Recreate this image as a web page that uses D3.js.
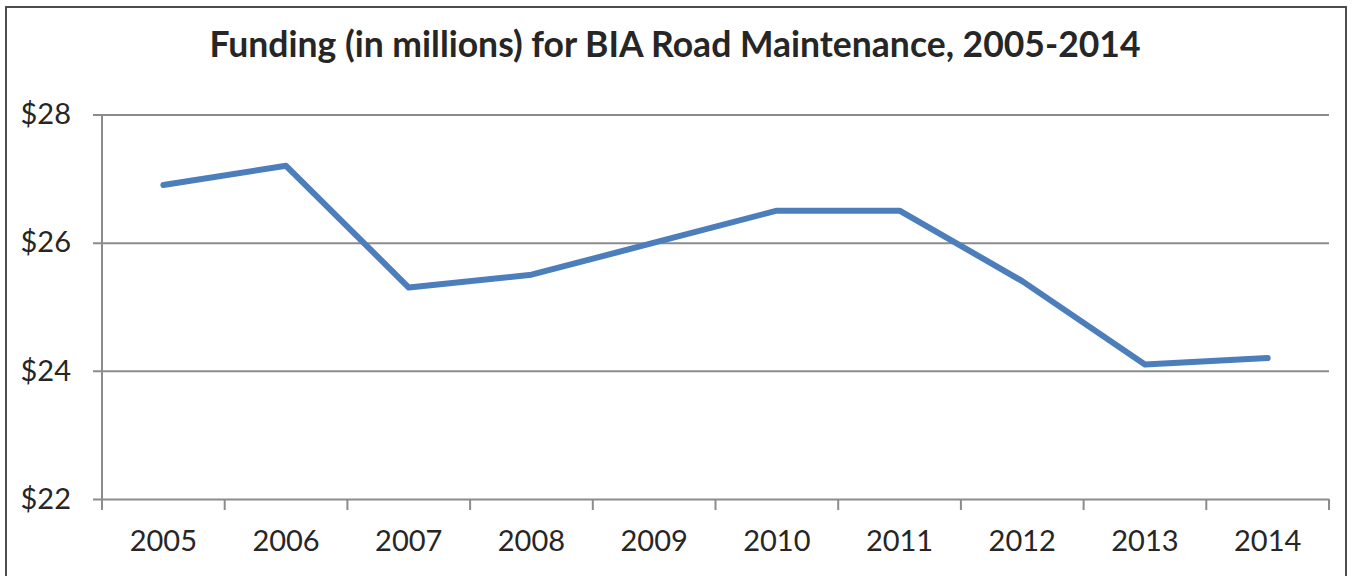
<!DOCTYPE html>
<html lang="en">
<head>
<meta charset="UTF-8">
<title>BIA Road Maintenance Funding</title>
<script src="https://d3js.org/d3.v7.min.js"></script>
<style>
  html, body { margin: 0; padding: 0; background: #fff; }
  svg { display: block; }
  text { font-family: Lato, "Open Sans", sans-serif; fill: #262626; }
</style>
</head>
<body>
<svg id="chart" width="1352" height="576"></svg>
<script>
    // data
    const years = ["2005", "2006", "2007", "2008", "2009", "2010", "2011", "2012", "2013", "2014"];
    const funding = [26.9, 27.2, 25.3, 25.5, 26.0, 26.5, 26.5, 25.4, 24.1, 24.2];
    const yTicks = [22, 24, 26, 28];
    const titleText = "Funding (in millions) for BIA Road Maintenance, 2005-2014";

    const svg = d3.select("#chart");
    const width = 1352, height = 576;
    const margin = {top: 114.5, right: 23, bottom: 77, left: 102};

    // outer frame
    svg.append("rect")
        .attr("x", 6).attr("y", 7)
        .attr("width", 1340).attr("height", 600)
        .attr("fill", "none")
        .attr("stroke", "#4d4d4d")
        .attr("stroke-width", 2);

    const x = d3.scaleBand()
        .domain(years)
        .range([margin.left, width - margin.right]);

    const y = d3.scaleLinear()
        .domain([22, 28])
        .range([height - margin.bottom, margin.top]);

    // gridlines + y labels
    const yAxis = d3.axisLeft(y)
        .tickValues(yTicks)
        .tickSize(-(width - margin.right - margin.left) - 9)
        .tickPadding(22)
        .tickFormat(d => "$" + d);

    const gy = svg.append("g")
        .attr("transform", `translate(${margin.left - 9},0)`)
        .call(yAxis);
    gy.select(".domain").remove();
    gy.selectAll(".tick line").attr("stroke", "#8c8c8c").attr("stroke-width", 2);
    gy.selectAll(".tick text")
        .attr("font-size", 29)
        .attr("fill", "#262626")
        .style("font-family", "Lato, 'Open Sans', sans-serif");

    // vertical axis line
    svg.append("line")
        .attr("x1", margin.left).attr("x2", margin.left)
        .attr("y1", margin.top).attr("y2", y(22) + 11)
        .attr("stroke", "#8c8c8c").attr("stroke-width", 2);

    // x axis with ticks between categories
    const xAxisG = svg.append("g");
    const bounds = years.map(d => x(d)).concat([x(years[years.length - 1]) + x.bandwidth()]);
    xAxisG.selectAll("line.xt")
        .data(bounds.slice(1))
        .join("line")
        .attr("class", "xt")
        .attr("x1", d => d).attr("x2", d => d)
        .attr("y1", y(22)).attr("y2", y(22) + 11)
        .attr("stroke", "#8c8c8c").attr("stroke-width", 2);

    xAxisG.selectAll("text")
        .data(years)
        .join("text")
        .attr("x", d => x(d) + x.bandwidth() / 2)
        .attr("y", y(22) + 52)
        .attr("text-anchor", "middle")
        .attr("font-size", 29)
        .text(d => d);

    // the line
    const line = d3.line()
        .x((d, i) => x(years[i]) + x.bandwidth() / 2)
        .y(d => y(d));

    svg.append("path")
        .datum(funding)
        .attr("fill", "none")
        .attr("stroke", "#4b7ebb")
        .attr("stroke-width", 6)
        .attr("stroke-linejoin", "round")
        .attr("stroke-linecap", "round")
        .attr("d", line);

    // title
    svg.append("text")
        .attr("x", 675)
        .attr("y", 57)
        .attr("text-anchor", "middle")
        .attr("font-size", 35.5)
        .attr("font-weight", "bold")
        .attr("fill", "#111")
        .text(titleText);
</script>
</body>
</html>
